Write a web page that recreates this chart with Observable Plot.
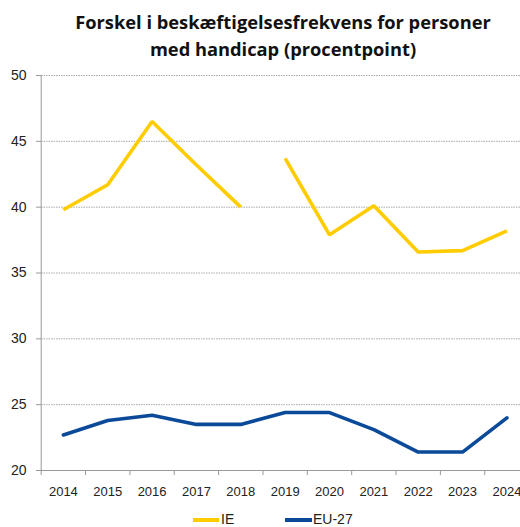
<!DOCTYPE html>
<html>
<head>
<meta charset="utf-8">
<script src="https://cdn.jsdelivr.net/npm/d3@7"></script>
<script src="https://cdn.jsdelivr.net/npm/@observablehq/plot@0.6"></script>
<style>
  body { margin: 0; background: #fff; }
  #wrap { position: relative; width: 520px; height: 527px; overflow: hidden; font-family: "Liberation Sans", Arial, sans-serif; }
  #title { position: absolute; left: 46px; right: 0; top: 8px; text-align: center; font-family: "Open Sans", sans-serif; font-weight: bold; font-size: 18.3px; line-height: 27px; color: #111; }
  #chart { position: absolute; left: 0; top: 62px; }
  .sw { position: absolute; height: 4px; top: 518px; }
  .lt { position: absolute; top: 511px; font-size: 14px; line-height: 16px; color: #222; }
</style>
</head>
<body>
<div id="wrap">
  <div id="title">Forskel i beskæftigelsesfrekvens for personer<br>med handicap (procentpoint)</div>
  <div id="chart"></div>
  <div class="sw" style="left:193px;width:26px;background:#FFCC00"></div>
  <div class="lt" style="left:221px">IE</div>
  <div class="sw" style="left:285px;width:27px;background:#0B4A99"></div>
  <div class="lt" style="left:313px">EU-27</div>
</div>
<script>
// Years on the horizontal axis
const years = [2014, 2015, 2016, 2017, 2018, 2019, 2020, 2021, 2022, 2023, 2024];
// Employment gap, persons with disabilities (percentage points)
const ieValues = [39.8, 41.7, 46.5, 43.2, 40.0, 43.7, 37.9, 40.1, 36.6, 36.7, 38.2];
// Break in the IE series between 2018 and 2019
const ieSegment = [1, 1, 1, 1, 1, 2, 2, 2, 2, 2, 2];
const euValues = [22.7, 23.8, 24.2, 23.5, 23.5, 24.4, 24.4, 23.1, 21.4, 21.4, 24.0];
const yTicks = [20, 25, 30, 35, 40, 45, 50];
const seriesColors = { IE: "#FFCC00", "EU-27": "#0B4A99" };

const ieData = years.map((year, i) => ({ year, value: ieValues[i], seg: ieSegment[i] }));
const euData = years.map((year, i) => ({ year, value: euValues[i] }));
const boundaries = years.map(y => y - 0.5);

const chart = Plot.plot({
  width: 520,
  height: 450,
  marginTop: 13,
  marginBottom: 42,
  marginLeft: 41,
  marginRight: 0,
  style: { fontFamily: "Liberation Sans, Arial, sans-serif", fontSize: "13px", color: "#222", overflow: "hidden" },
  x: { domain: [2013.5, 2024.5], range: [40.7, 528.6] },
  y: { domain: [20, 50] },
  marks: [
    Plot.gridY(yTicks.filter(t => t > 20), { stroke: "#a8a8a8", strokeOpacity: 1, strokeDasharray: "1.5,1", strokeWidth: 1 }),
    Plot.axisY(yTicks, { tickSize: 5, tickPadding: 10, fontSize: 14, stroke: "#999", label: null, tickFormat: d => d }),
    Plot.axisX(boundaries, { tickSize: 5, stroke: "#999", tickFormat: () => "", label: null }),
    Plot.axisX(years, { tickSize: 0, tickPadding: 16, fontSize: 13, tickFormat: d => String(d), label: null }),
    Plot.ruleY([20], { stroke: "#999" }),
    Plot.ruleX([2013.5], { stroke: "#999" }),
    Plot.line(ieData, { x: "year", y: "value", z: "seg", stroke: seriesColors.IE, strokeWidth: 3.6, strokeLinejoin: "miter", strokeLinecap: "butt" }),
    Plot.line(euData, { x: "year", y: "value", stroke: seriesColors["EU-27"], strokeWidth: 3.6, strokeLinejoin: "round" })
  ]
});
document.getElementById("chart").appendChild(chart);
</script>
</body>
</html>
